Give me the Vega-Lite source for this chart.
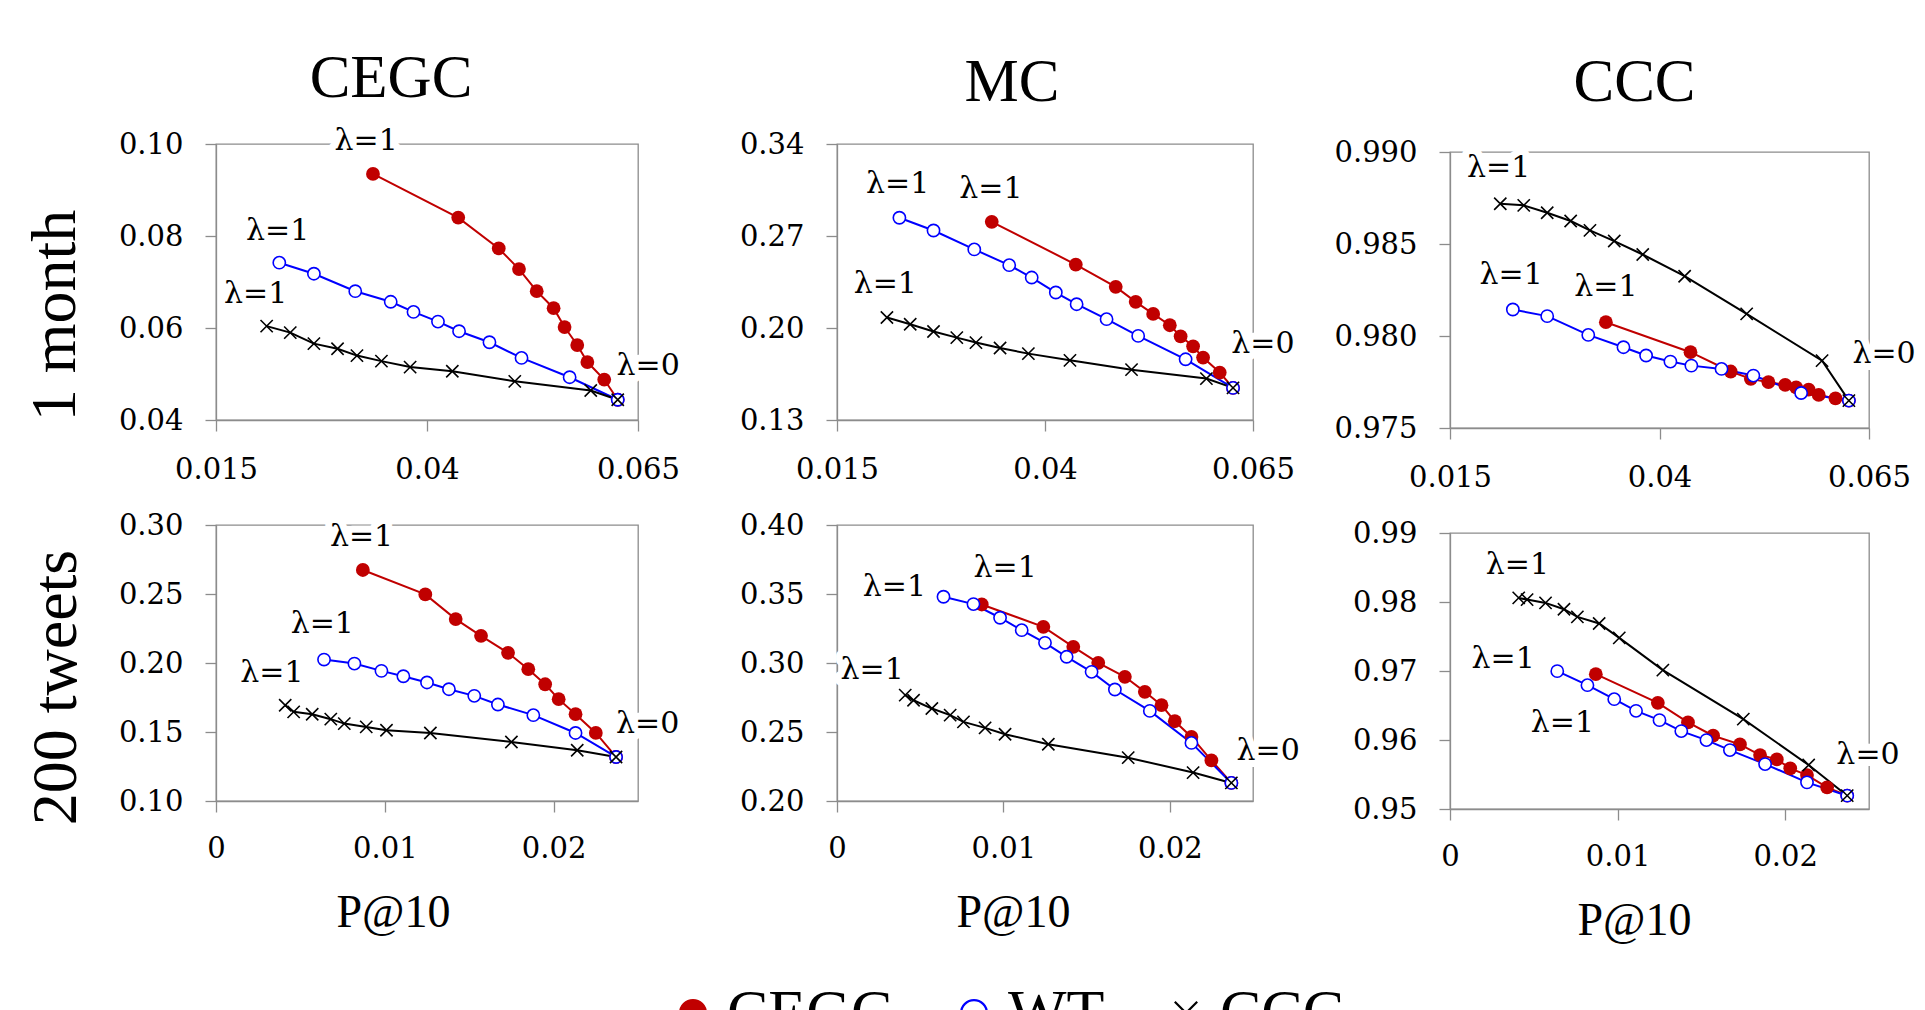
{
"$schema": "https://vega.github.io/schema/vega-lite/v6.json",
"background": "white",
"padding": {"left": 22, "top": 47, "right": 0, "bottom": 0},
"datasets": {
"points": [
{"period":"1 month","metric":"CEGC","method":"CEGC","lambda":1,"p10":0.0336,"value":0.0935},
{"period":"1 month","metric":"CEGC","method":"CEGC","lambda":0.9,"p10":0.0437,"value":0.0840},
{"period":"1 month","metric":"CEGC","method":"CEGC","lambda":0.8,"p10":0.0485,"value":0.0773},
{"period":"1 month","metric":"CEGC","method":"CEGC","lambda":0.7,"p10":0.0509,"value":0.0728},
{"period":"1 month","metric":"CEGC","method":"CEGC","lambda":0.6,"p10":0.0530,"value":0.0680},
{"period":"1 month","metric":"CEGC","method":"CEGC","lambda":0.5,"p10":0.0550,"value":0.0643},
{"period":"1 month","metric":"CEGC","method":"CEGC","lambda":0.4,"p10":0.0563,"value":0.0602},
{"period":"1 month","metric":"CEGC","method":"CEGC","lambda":0.3,"p10":0.0578,"value":0.0563},
{"period":"1 month","metric":"CEGC","method":"CEGC","lambda":0.2,"p10":0.0590,"value":0.0526},
{"period":"1 month","metric":"CEGC","method":"CEGC","lambda":0.1,"p10":0.0610,"value":0.0488},
{"period":"1 month","metric":"CEGC","method":"CEGC","lambda":0,"p10":0.0626,"value":0.0444},
{"period":"1 month","metric":"CEGC","method":"WT","lambda":1,"p10":0.0225,"value":0.0742},
{"period":"1 month","metric":"CEGC","method":"WT","lambda":0.9,"p10":0.0266,"value":0.0718},
{"period":"1 month","metric":"CEGC","method":"WT","lambda":0.8,"p10":0.0315,"value":0.0680},
{"period":"1 month","metric":"CEGC","method":"WT","lambda":0.7,"p10":0.0357,"value":0.0657},
{"period":"1 month","metric":"CEGC","method":"WT","lambda":0.6,"p10":0.0384,"value":0.0635},
{"period":"1 month","metric":"CEGC","method":"WT","lambda":0.5,"p10":0.0413,"value":0.0614},
{"period":"1 month","metric":"CEGC","method":"WT","lambda":0.4,"p10":0.0438,"value":0.0593},
{"period":"1 month","metric":"CEGC","method":"WT","lambda":0.3,"p10":0.0474,"value":0.0569},
{"period":"1 month","metric":"CEGC","method":"WT","lambda":0.2,"p10":0.0512,"value":0.0535},
{"period":"1 month","metric":"CEGC","method":"WT","lambda":0.1,"p10":0.0569,"value":0.0493},
{"period":"1 month","metric":"CEGC","method":"WT","lambda":0,"p10":0.0626,"value":0.0444},
{"period":"1 month","metric":"CEGC","method":"CCC","lambda":1,"p10":0.0210,"value":0.0604},
{"period":"1 month","metric":"CEGC","method":"CCC","lambda":0.9,"p10":0.0238,"value":0.0590},
{"period":"1 month","metric":"CEGC","method":"CCC","lambda":0.8,"p10":0.0266,"value":0.0566},
{"period":"1 month","metric":"CEGC","method":"CCC","lambda":0.7,"p10":0.0294,"value":0.0555},
{"period":"1 month","metric":"CEGC","method":"CCC","lambda":0.6,"p10":0.0317,"value":0.0540},
{"period":"1 month","metric":"CEGC","method":"CCC","lambda":0.5,"p10":0.0346,"value":0.0528},
{"period":"1 month","metric":"CEGC","method":"CCC","lambda":0.4,"p10":0.0380,"value":0.0515},
{"period":"1 month","metric":"CEGC","method":"CCC","lambda":0.3,"p10":0.0430,"value":0.0506},
{"period":"1 month","metric":"CEGC","method":"CCC","lambda":0.2,"p10":0.0504,"value":0.0484},
{"period":"1 month","metric":"CEGC","method":"CCC","lambda":0.1,"p10":0.0594,"value":0.0464},
{"period":"1 month","metric":"CEGC","method":"CCC","lambda":0,"p10":0.0626,"value":0.0444},
{"period":"1 month","metric":"MC","method":"CEGC","lambda":1,"p10":0.0336,"value":0.2808},
{"period":"1 month","metric":"MC","method":"CEGC","lambda":0.9,"p10":0.0437,"value":0.2483},
{"period":"1 month","metric":"MC","method":"CEGC","lambda":0.8,"p10":0.0485,"value":0.2313},
{"period":"1 month","metric":"MC","method":"CEGC","lambda":0.7,"p10":0.0509,"value":0.2199},
{"period":"1 month","metric":"MC","method":"CEGC","lambda":0.6,"p10":0.0530,"value":0.2107},
{"period":"1 month","metric":"MC","method":"CEGC","lambda":0.5,"p10":0.0550,"value":0.2021},
{"period":"1 month","metric":"MC","method":"CEGC","lambda":0.4,"p10":0.0563,"value":0.1937},
{"period":"1 month","metric":"MC","method":"CEGC","lambda":0.3,"p10":0.0578,"value":0.1861},
{"period":"1 month","metric":"MC","method":"CEGC","lambda":0.2,"p10":0.0590,"value":0.1775},
{"period":"1 month","metric":"MC","method":"CEGC","lambda":0.1,"p10":0.0610,"value":0.1661},
{"period":"1 month","metric":"MC","method":"CEGC","lambda":0,"p10":0.0626,"value":0.1544},
{"period":"1 month","metric":"MC","method":"WT","lambda":1,"p10":0.0225,"value":0.2839},
{"period":"1 month","metric":"MC","method":"WT","lambda":0.9,"p10":0.0266,"value":0.2742},
{"period":"1 month","metric":"MC","method":"WT","lambda":0.8,"p10":0.0315,"value":0.2598},
{"period":"1 month","metric":"MC","method":"WT","lambda":0.7,"p10":0.0357,"value":0.2478},
{"period":"1 month","metric":"MC","method":"WT","lambda":0.6,"p10":0.0384,"value":0.2384},
{"period":"1 month","metric":"MC","method":"WT","lambda":0.5,"p10":0.0413,"value":0.2270},
{"period":"1 month","metric":"MC","method":"WT","lambda":0.4,"p10":0.0438,"value":0.2181},
{"period":"1 month","metric":"MC","method":"WT","lambda":0.3,"p10":0.0474,"value":0.2067},
{"period":"1 month","metric":"MC","method":"WT","lambda":0.2,"p10":0.0512,"value":0.1940},
{"period":"1 month","metric":"MC","method":"WT","lambda":0.1,"p10":0.0569,"value":0.1762},
{"period":"1 month","metric":"MC","method":"WT","lambda":0,"p10":0.0626,"value":0.1544},
{"period":"1 month","metric":"MC","method":"CCC","lambda":1,"p10":0.0210,"value":0.2080},
{"period":"1 month","metric":"MC","method":"CCC","lambda":0.9,"p10":0.0238,"value":0.2029},
{"period":"1 month","metric":"MC","method":"CCC","lambda":0.8,"p10":0.0266,"value":0.1973},
{"period":"1 month","metric":"MC","method":"CCC","lambda":0.7,"p10":0.0294,"value":0.1927},
{"period":"1 month","metric":"MC","method":"CCC","lambda":0.6,"p10":0.0317,"value":0.1889},
{"period":"1 month","metric":"MC","method":"CCC","lambda":0.5,"p10":0.0346,"value":0.1848},
{"period":"1 month","metric":"MC","method":"CCC","lambda":0.4,"p10":0.0380,"value":0.1805},
{"period":"1 month","metric":"MC","method":"CCC","lambda":0.3,"p10":0.0430,"value":0.1754},
{"period":"1 month","metric":"MC","method":"CCC","lambda":0.2,"p10":0.0504,"value":0.1683},
{"period":"1 month","metric":"MC","method":"CCC","lambda":0.1,"p10":0.0594,"value":0.1615},
{"period":"1 month","metric":"MC","method":"CCC","lambda":0,"p10":0.0626,"value":0.1544},
{"period":"1 month","metric":"CCC","method":"CEGC","lambda":1,"p10":0.0336,"value":0.98075},
{"period":"1 month","metric":"CCC","method":"CEGC","lambda":0.9,"p10":0.0437,"value":0.97912},
{"period":"1 month","metric":"CCC","method":"CEGC","lambda":0.8,"p10":0.0485,"value":0.97807},
{"period":"1 month","metric":"CCC","method":"CEGC","lambda":0.7,"p10":0.0509,"value":0.97767},
{"period":"1 month","metric":"CCC","method":"CEGC","lambda":0.6,"p10":0.0530,"value":0.97749},
{"period":"1 month","metric":"CCC","method":"CEGC","lambda":0.5,"p10":0.0550,"value":0.97734},
{"period":"1 month","metric":"CCC","method":"CEGC","lambda":0.4,"p10":0.0563,"value":0.97721},
{"period":"1 month","metric":"CCC","method":"CEGC","lambda":0.3,"p10":0.0578,"value":0.97709},
{"period":"1 month","metric":"CCC","method":"CEGC","lambda":0.2,"p10":0.0590,"value":0.97680},
{"period":"1 month","metric":"CCC","method":"CEGC","lambda":0.1,"p10":0.0610,"value":0.97661},
{"period":"1 month","metric":"CCC","method":"CEGC","lambda":0,"p10":0.0626,"value":0.97649},
{"period":"1 month","metric":"CCC","method":"WT","lambda":1,"p10":0.0225,"value":0.98144},
{"period":"1 month","metric":"CCC","method":"WT","lambda":0.9,"p10":0.0266,"value":0.98108},
{"period":"1 month","metric":"CCC","method":"WT","lambda":0.8,"p10":0.0315,"value":0.98006},
{"period":"1 month","metric":"CCC","method":"WT","lambda":0.7,"p10":0.0357,"value":0.97939},
{"period":"1 month","metric":"CCC","method":"WT","lambda":0.6,"p10":0.0384,"value":0.97894},
{"period":"1 month","metric":"CCC","method":"WT","lambda":0.5,"p10":0.0413,"value":0.97861},
{"period":"1 month","metric":"CCC","method":"WT","lambda":0.4,"p10":0.0438,"value":0.97839},
{"period":"1 month","metric":"CCC","method":"WT","lambda":0.3,"p10":0.0474,"value":0.97821},
{"period":"1 month","metric":"CCC","method":"WT","lambda":0.2,"p10":0.0512,"value":0.97785},
{"period":"1 month","metric":"CCC","method":"WT","lambda":0.1,"p10":0.0569,"value":0.97690},
{"period":"1 month","metric":"CCC","method":"WT","lambda":0,"p10":0.0626,"value":0.97649},
{"period":"1 month","metric":"CCC","method":"CCC","lambda":1,"p10":0.0210,"value":0.98719},
{"period":"1 month","metric":"CCC","method":"CCC","lambda":0.9,"p10":0.0238,"value":0.98710},
{"period":"1 month","metric":"CCC","method":"CCC","lambda":0.8,"p10":0.0266,"value":0.98670},
{"period":"1 month","metric":"CCC","method":"CCC","lambda":0.7,"p10":0.0294,"value":0.98625},
{"period":"1 month","metric":"CCC","method":"CCC","lambda":0.6,"p10":0.0317,"value":0.98574},
{"period":"1 month","metric":"CCC","method":"CCC","lambda":0.5,"p10":0.0346,"value":0.98516},
{"period":"1 month","metric":"CCC","method":"CCC","lambda":0.4,"p10":0.0380,"value":0.98443},
{"period":"1 month","metric":"CCC","method":"CCC","lambda":0.3,"p10":0.0430,"value":0.98325},
{"period":"1 month","metric":"CCC","method":"CCC","lambda":0.2,"p10":0.0504,"value":0.98120},
{"period":"1 month","metric":"CCC","method":"CCC","lambda":0.1,"p10":0.0594,"value":0.97866},
{"period":"1 month","metric":"CCC","method":"CCC","lambda":0,"p10":0.0626,"value":0.97649},
{"period":"200 tweets","metric":"CEGC","method":"CEGC","lambda":1,"p10":0.0087,"value":0.2674},
{"period":"200 tweets","metric":"CEGC","method":"CEGC","lambda":0.9,"p10":0.0124,"value":0.2497},
{"period":"200 tweets","metric":"CEGC","method":"CEGC","lambda":0.8,"p10":0.0142,"value":0.2318},
{"period":"200 tweets","metric":"CEGC","method":"CEGC","lambda":0.7,"p10":0.0157,"value":0.2197},
{"period":"200 tweets","metric":"CEGC","method":"CEGC","lambda":0.6,"p10":0.0173,"value":0.2074},
{"period":"200 tweets","metric":"CEGC","method":"CEGC","lambda":0.5,"p10":0.0185,"value":0.1955},
{"period":"200 tweets","metric":"CEGC","method":"CEGC","lambda":0.4,"p10":0.0195,"value":0.1846},
{"period":"200 tweets","metric":"CEGC","method":"CEGC","lambda":0.3,"p10":0.0203,"value":0.1738},
{"period":"200 tweets","metric":"CEGC","method":"CEGC","lambda":0.2,"p10":0.0213,"value":0.1629},
{"period":"200 tweets","metric":"CEGC","method":"CEGC","lambda":0.1,"p10":0.0225,"value":0.1493},
{"period":"200 tweets","metric":"CEGC","method":"CEGC","lambda":0,"p10":0.0237,"value":0.1319},
{"period":"200 tweets","metric":"CEGC","method":"WT","lambda":1,"p10":0.0064,"value":0.2025},
{"period":"200 tweets","metric":"CEGC","method":"WT","lambda":0.9,"p10":0.0082,"value":0.1996},
{"period":"200 tweets","metric":"CEGC","method":"WT","lambda":0.8,"p10":0.0098,"value":0.1943},
{"period":"200 tweets","metric":"CEGC","method":"WT","lambda":0.7,"p10":0.0111,"value":0.1904},
{"period":"200 tweets","metric":"CEGC","method":"WT","lambda":0.6,"p10":0.0125,"value":0.1859},
{"period":"200 tweets","metric":"CEGC","method":"WT","lambda":0.5,"p10":0.0138,"value":0.1810},
{"period":"200 tweets","metric":"CEGC","method":"WT","lambda":0.4,"p10":0.0153,"value":0.1762},
{"period":"200 tweets","metric":"CEGC","method":"WT","lambda":0.3,"p10":0.0167,"value":0.1699},
{"period":"200 tweets","metric":"CEGC","method":"WT","lambda":0.2,"p10":0.0188,"value":0.1622},
{"period":"200 tweets","metric":"CEGC","method":"WT","lambda":0.1,"p10":0.0213,"value":0.1493},
{"period":"200 tweets","metric":"CEGC","method":"WT","lambda":0,"p10":0.0237,"value":0.1319},
{"period":"200 tweets","metric":"CEGC","method":"CCC","lambda":1,"p10":0.0041,"value":0.1694},
{"period":"200 tweets","metric":"CEGC","method":"CCC","lambda":0.9,"p10":0.0046,"value":0.1646},
{"period":"200 tweets","metric":"CEGC","method":"CCC","lambda":0.8,"p10":0.0057,"value":0.1629},
{"period":"200 tweets","metric":"CEGC","method":"CCC","lambda":0.7,"p10":0.0068,"value":0.1593},
{"period":"200 tweets","metric":"CEGC","method":"CCC","lambda":0.6,"p10":0.0076,"value":0.1561},
{"period":"200 tweets","metric":"CEGC","method":"CCC","lambda":0.5,"p10":0.0089,"value":0.1537},
{"period":"200 tweets","metric":"CEGC","method":"CCC","lambda":0.4,"p10":0.0101,"value":0.1513},
{"period":"200 tweets","metric":"CEGC","method":"CCC","lambda":0.3,"p10":0.0127,"value":0.1493},
{"period":"200 tweets","metric":"CEGC","method":"CCC","lambda":0.2,"p10":0.0175,"value":0.1428},
{"period":"200 tweets","metric":"CEGC","method":"CCC","lambda":0.1,"p10":0.0214,"value":0.1368},
{"period":"200 tweets","metric":"CEGC","method":"CCC","lambda":0,"p10":0.0237,"value":0.1319},
{"period":"200 tweets","metric":"MC","method":"CEGC","lambda":1,"p10":0.0087,"value":0.3424},
{"period":"200 tweets","metric":"MC","method":"CEGC","lambda":0.9,"p10":0.0124,"value":0.3262},
{"period":"200 tweets","metric":"MC","method":"CEGC","lambda":0.8,"p10":0.0142,"value":0.3117},
{"period":"200 tweets","metric":"MC","method":"CEGC","lambda":0.7,"p10":0.0157,"value":0.3001},
{"period":"200 tweets","metric":"MC","method":"CEGC","lambda":0.6,"p10":0.0173,"value":0.2900},
{"period":"200 tweets","metric":"MC","method":"CEGC","lambda":0.5,"p10":0.0185,"value":0.2791},
{"period":"200 tweets","metric":"MC","method":"CEGC","lambda":0.4,"p10":0.0195,"value":0.2694},
{"period":"200 tweets","metric":"MC","method":"CEGC","lambda":0.3,"p10":0.0203,"value":0.2578},
{"period":"200 tweets","metric":"MC","method":"CEGC","lambda":0.2,"p10":0.0213,"value":0.2464},
{"period":"200 tweets","metric":"MC","method":"CEGC","lambda":0.1,"p10":0.0225,"value":0.2295},
{"period":"200 tweets","metric":"MC","method":"CEGC","lambda":0,"p10":0.0237,"value":0.2131},
{"period":"200 tweets","metric":"MC","method":"WT","lambda":1,"p10":0.0064,"value":0.3480},
{"period":"200 tweets","metric":"MC","method":"WT","lambda":0.9,"p10":0.0082,"value":0.3427},
{"period":"200 tweets","metric":"MC","method":"WT","lambda":0.8,"p10":0.0098,"value":0.3328},
{"period":"200 tweets","metric":"MC","method":"WT","lambda":0.7,"p10":0.0111,"value":0.3238},
{"period":"200 tweets","metric":"MC","method":"WT","lambda":0.6,"p10":0.0125,"value":0.3146},
{"period":"200 tweets","metric":"MC","method":"WT","lambda":0.5,"p10":0.0138,"value":0.3045},
{"period":"200 tweets","metric":"MC","method":"WT","lambda":0.4,"p10":0.0153,"value":0.2936},
{"period":"200 tweets","metric":"MC","method":"WT","lambda":0.3,"p10":0.0167,"value":0.2808},
{"period":"200 tweets","metric":"MC","method":"WT","lambda":0.2,"p10":0.0188,"value":0.2653},
{"period":"200 tweets","metric":"MC","method":"WT","lambda":0.1,"p10":0.0213,"value":0.2421},
{"period":"200 tweets","metric":"MC","method":"WT","lambda":0,"p10":0.0237,"value":0.2131},
{"period":"200 tweets","metric":"MC","method":"CCC","lambda":1,"p10":0.0041,"value":0.2767},
{"period":"200 tweets","metric":"MC","method":"CCC","lambda":0.9,"p10":0.0046,"value":0.2730},
{"period":"200 tweets","metric":"MC","method":"CCC","lambda":0.8,"p10":0.0057,"value":0.2670},
{"period":"200 tweets","metric":"MC","method":"CCC","lambda":0.7,"p10":0.0068,"value":0.2622},
{"period":"200 tweets","metric":"MC","method":"CCC","lambda":0.6,"p10":0.0076,"value":0.2573},
{"period":"200 tweets","metric":"MC","method":"CCC","lambda":0.5,"p10":0.0089,"value":0.2530},
{"period":"200 tweets","metric":"MC","method":"CCC","lambda":0.4,"p10":0.0101,"value":0.2484},
{"period":"200 tweets","metric":"MC","method":"CCC","lambda":0.3,"p10":0.0127,"value":0.2411},
{"period":"200 tweets","metric":"MC","method":"CCC","lambda":0.2,"p10":0.0175,"value":0.2314},
{"period":"200 tweets","metric":"MC","method":"CCC","lambda":0.1,"p10":0.0214,"value":0.2206},
{"period":"200 tweets","metric":"MC","method":"CCC","lambda":0,"p10":0.0237,"value":0.2131},
{"period":"200 tweets","metric":"CCC","method":"CEGC","lambda":1,"p10":0.0087,"value":0.96954},
{"period":"200 tweets","metric":"CCC","method":"CEGC","lambda":0.9,"p10":0.0124,"value":0.96539},
{"period":"200 tweets","metric":"CCC","method":"CEGC","lambda":0.8,"p10":0.0142,"value":0.96255},
{"period":"200 tweets","metric":"CCC","method":"CEGC","lambda":0.7,"p10":0.0157,"value":0.96062},
{"period":"200 tweets","metric":"CCC","method":"CEGC","lambda":0.6,"p10":0.0173,"value":0.95936},
{"period":"200 tweets","metric":"CCC","method":"CEGC","lambda":0.5,"p10":0.0185,"value":0.95782},
{"period":"200 tweets","metric":"CCC","method":"CEGC","lambda":0.4,"p10":0.0195,"value":0.95719},
{"period":"200 tweets","metric":"CCC","method":"CEGC","lambda":0.3,"p10":0.0203,"value":0.95589},
{"period":"200 tweets","metric":"CCC","method":"CEGC","lambda":0.2,"p10":0.0213,"value":0.95492},
{"period":"200 tweets","metric":"CCC","method":"CEGC","lambda":0.1,"p10":0.0225,"value":0.95314},
{"period":"200 tweets","metric":"CCC","method":"CEGC","lambda":0,"p10":0.0237,"value":0.95193},
{"period":"200 tweets","metric":"CCC","method":"WT","lambda":1,"p10":0.0064,"value":0.96998},
{"period":"200 tweets","metric":"CCC","method":"WT","lambda":0.9,"p10":0.0082,"value":0.96795},
{"period":"200 tweets","metric":"CCC","method":"WT","lambda":0.8,"p10":0.0098,"value":0.96592},
{"period":"200 tweets","metric":"CCC","method":"WT","lambda":0.7,"p10":0.0111,"value":0.96423},
{"period":"200 tweets","metric":"CCC","method":"WT","lambda":0.6,"p10":0.0125,"value":0.96288},
{"period":"200 tweets","metric":"CCC","method":"WT","lambda":0.5,"p10":0.0138,"value":0.96129},
{"period":"200 tweets","metric":"CCC","method":"WT","lambda":0.4,"p10":0.0153,"value":0.95999},
{"period":"200 tweets","metric":"CCC","method":"WT","lambda":0.3,"p10":0.0167,"value":0.95854},
{"period":"200 tweets","metric":"CCC","method":"WT","lambda":0.2,"p10":0.0188,"value":0.95651},
{"period":"200 tweets","metric":"CCC","method":"WT","lambda":0.1,"p10":0.0213,"value":0.95386},
{"period":"200 tweets","metric":"CCC","method":"WT","lambda":0,"p10":0.0237,"value":0.95193},
{"period":"200 tweets","metric":"CCC","method":"CCC","lambda":1,"p10":0.0041,"value":0.98059},
{"period":"200 tweets","metric":"CCC","method":"CCC","lambda":0.9,"p10":0.0046,"value":0.98035},
{"period":"200 tweets","metric":"CCC","method":"CCC","lambda":0.8,"p10":0.0057,"value":0.97987},
{"period":"200 tweets","metric":"CCC","method":"CCC","lambda":0.7,"p10":0.0068,"value":0.97895},
{"period":"200 tweets","metric":"CCC","method":"CCC","lambda":0.6,"p10":0.0076,"value":0.97784},
{"period":"200 tweets","metric":"CCC","method":"CCC","lambda":0.5,"p10":0.0089,"value":0.97688},
{"period":"200 tweets","metric":"CCC","method":"CCC","lambda":0.4,"p10":0.0101,"value":0.97480},
{"period":"200 tweets","metric":"CCC","method":"CCC","lambda":0.3,"p10":0.0127,"value":0.97012},
{"period":"200 tweets","metric":"CCC","method":"CCC","lambda":0.2,"p10":0.0175,"value":0.96303},
{"period":"200 tweets","metric":"CCC","method":"CCC","lambda":0.1,"p10":0.0214,"value":0.95637},
{"period":"200 tweets","metric":"CCC","method":"CCC","lambda":0,"p10":0.0237,"value":0.95193}
],
"labels": [
{"period":"1 month","metric":"CEGC","text":"λ=1","p10":0.0328,"value":0.1007},
{"period":"1 month","metric":"CEGC","text":"λ=1","p10":0.0223,"value":0.0811},
{"period":"1 month","metric":"CEGC","text":"λ=1","p10":0.0197,"value":0.0673},
{"period":"1 month","metric":"CEGC","text":"λ=0","p10":0.0662,"value":0.0517},
{"period":"1 month","metric":"MC","text":"λ=1","p10":0.0223,"value":0.3093},
{"period":"1 month","metric":"MC","text":"λ=1","p10":0.0335,"value":0.3057},
{"period":"1 month","metric":"MC","text":"λ=1","p10":0.0208,"value":0.2331},
{"period":"1 month","metric":"MC","text":"λ=0","p10":0.0662,"value":0.1881},
{"period":"1 month","metric":"CCC","text":"λ=1","p10":0.0208,"value":0.98913},
{"period":"1 month","metric":"CCC","text":"λ=1","p10":0.0223,"value":0.98329},
{"period":"1 month","metric":"CCC","text":"λ=1","p10":0.0336,"value":0.98265},
{"period":"1 month","metric":"CCC","text":"λ=0","p10":0.0668,"value":0.97903},
{"period":"200 tweets","metric":"CEGC","text":"λ=1","p10":0.00862,"value":0.2915},
{"period":"200 tweets","metric":"CEGC","text":"λ=1","p10":0.0063,"value":0.2279},
{"period":"200 tweets","metric":"CEGC","text":"λ=1","p10":0.00331,"value":0.1924},
{"period":"200 tweets","metric":"CEGC","text":"λ=0","p10":0.02557,"value":0.1561},
{"period":"200 tweets","metric":"MC","text":"λ=1","p10":0.00345,"value":0.3553},
{"period":"200 tweets","metric":"MC","text":"λ=1","p10":0.01011,"value":0.3686},
{"period":"200 tweets","metric":"MC","text":"λ=1","p10":0.00211,"value":0.2948},
{"period":"200 tweets","metric":"MC","text":"λ=0","p10":0.02591,"value":0.2360},
{"period":"200 tweets","metric":"CCC","text":"λ=1","p10":0.00402,"value":0.98532},
{"period":"200 tweets","metric":"CCC","text":"λ=1","p10":0.00317,"value":0.97181},
{"period":"200 tweets","metric":"CCC","text":"λ=1","p10":0.00671,"value":0.9624},
{"period":"200 tweets","metric":"CCC","text":"λ=0","p10":0.02494,"value":0.95782}
]
},
"hconcat": [
{"concat": [
{"width": 422, "height": 276, "title": {"text": "CEGC", "dx": -36},
 "layer": [
  {"data": {"name": "points"}, "transform": [{"filter": "datum.period === '1 month' && datum.metric === 'CEGC'"}],
   "mark": {"type": "line", "strokeWidth": 2},
   "encoding": {
    "x": {"field": "p10", "type": "quantitative", "scale": {"domain": [0.015, 0.065], "nice": false, "zero": false}, "axis": {"values": [0.015, 0.04, 0.065], "format": ".3~f", "title": null, "labelPadding": 24}},
    "y": {"field": "value", "type": "quantitative", "scale": {"domain": [0.04, 0.10], "nice": false, "zero": false}, "axis": {"values": [0.04, 0.06, 0.08, 0.10], "format": ".2f", "title": "1 month", "titleX": -142, "titleY": 171}},
    "stroke": {"field": "method", "type": "nominal", "scale": {"domain": ["CEGC", "WT", "CCC"], "range": ["#c00000", "#0000ff", "#000000"]}, "legend": {"title": null}},
    "order": {"field": "lambda", "type": "quantitative"}}},
  {"data": {"name": "points"}, "transform": [{"filter": "false"}],
   "mark": {"type": "point", "opacity": 1, "size": 3136},
   "encoding": {
    "x": {"field": "p10", "type": "quantitative"}, "y": {"field": "value", "type": "quantitative"},
    "shape": {"field": "method", "type": "nominal", "scale": {"domain": ["CEGC", "WT", "CCC"], "range": ["M-1,0L1,0M0.46,0A0.46,0.46,0,1,1,-0.46,0A0.46,0.46,0,1,1,0.46,0Z", "M-1,0L-0.46,0M0.46,0L1,0M0.46,0A0.46,0.46,0,1,1,-0.46,0A0.46,0.46,0,1,1,0.46,0Z", "M-1,0L1,0M-0.4,-0.4L0.4,0.4M-0.4,0.4L0.4,-0.4"]}, "legend": {"title": null}},
    "fill": {"field": "method", "type": "nominal", "scale": {"domain": ["CEGC", "WT", "CCC"], "range": ["#c00000", "#ffffff", "transparent"]}, "legend": {"title": null}},
    "stroke": {"field": "method", "type": "nominal", "legend": {"title": null}}}},
  {"data": {"name": "points"}, "transform": [{"filter": "datum.period === '1 month' && datum.metric === 'CEGC' && datum.method === 'CEGC'"}],
   "mark": {"type": "point", "shape": "circle", "filled": true, "color": "#c00000", "size": 190, "opacity": 1},
   "encoding": {"x": {"field": "p10", "type": "quantitative"}, "y": {"field": "value", "type": "quantitative"}}},
  {"data": {"name": "points"}, "transform": [{"filter": "datum.period === '1 month' && datum.metric === 'CEGC' && datum.method === 'WT'"}],
   "mark": {"type": "point", "shape": "circle", "fill": "#ffffff", "stroke": "#0000ff", "strokeWidth": 1.6, "size": 150, "opacity": 1},
   "encoding": {"x": {"field": "p10", "type": "quantitative"}, "y": {"field": "value", "type": "quantitative"}}},
  {"data": {"name": "points"}, "transform": [{"filter": "datum.period === '1 month' && datum.metric === 'CEGC' && datum.method === 'CCC'"}],
   "mark": {"type": "point", "shape": "M-1,-1L1,1M-1,1L1,-1", "stroke": "#000000", "strokeWidth": 1.6, "size": 150, "opacity": 1},
   "encoding": {"x": {"field": "p10", "type": "quantitative"}, "y": {"field": "value", "type": "quantitative"}}},
  {"data": {"name": "labels"}, "transform": [{"filter": "datum.period === '1 month' && datum.metric === 'CEGC'"}],
   "mark": {"type": "text", "fontSize": 30, "fill": "white", "stroke": "white", "strokeWidth": 14, "strokeJoin": "round"},
   "encoding": {"x": {"field": "p10", "type": "quantitative"}, "y": {"field": "value", "type": "quantitative"}, "text": {"field": "text"}}},
  {"data": {"name": "labels"}, "transform": [{"filter": "datum.period === '1 month' && datum.metric === 'CEGC'"}],
   "mark": {"type": "text", "fontSize": 30, "fill": "black"},
   "encoding": {"x": {"field": "p10", "type": "quantitative"}, "y": {"field": "value", "type": "quantitative"}, "text": {"field": "text"}}}
 ]},
{"width": 416, "height": 276, "title": {"text": "MC", "dx": -33},
 "layer": [
  {"data": {"name": "points"}, "transform": [{"filter": "datum.period === '1 month' && datum.metric === 'MC'"}],
   "mark": {"type": "line", "strokeWidth": 2},
   "encoding": {
    "x": {"field": "p10", "type": "quantitative", "scale": {"domain": [0.015, 0.065], "nice": false, "zero": false}, "axis": {"values": [0.015, 0.04, 0.065], "format": ".3~f", "title": null, "labelPadding": 24}},
    "y": {"field": "value", "type": "quantitative", "scale": {"domain": [0.13, 0.34], "nice": false, "zero": false}, "axis": {"values": [0.13, 0.20, 0.27, 0.34], "format": ".2f", "title": null}},
    "stroke": {"field": "method", "type": "nominal", "legend": {"title": null}},
    "order": {"field": "lambda", "type": "quantitative"}}},
  {"data": {"name": "points"}, "transform": [{"filter": "datum.period === '1 month' && datum.metric === 'MC' && datum.method === 'CEGC'"}],
   "mark": {"type": "point", "shape": "circle", "filled": true, "color": "#c00000", "size": 190, "opacity": 1},
   "encoding": {"x": {"field": "p10", "type": "quantitative"}, "y": {"field": "value", "type": "quantitative"}}},
  {"data": {"name": "points"}, "transform": [{"filter": "datum.period === '1 month' && datum.metric === 'MC' && datum.method === 'WT'"}],
   "mark": {"type": "point", "shape": "circle", "fill": "#ffffff", "stroke": "#0000ff", "strokeWidth": 1.6, "size": 150, "opacity": 1},
   "encoding": {"x": {"field": "p10", "type": "quantitative"}, "y": {"field": "value", "type": "quantitative"}}},
  {"data": {"name": "points"}, "transform": [{"filter": "datum.period === '1 month' && datum.metric === 'MC' && datum.method === 'CCC'"}],
   "mark": {"type": "point", "shape": "M-1,-1L1,1M-1,1L1,-1", "stroke": "#000000", "strokeWidth": 1.6, "size": 150, "opacity": 1},
   "encoding": {"x": {"field": "p10", "type": "quantitative"}, "y": {"field": "value", "type": "quantitative"}}},
  {"data": {"name": "labels"}, "transform": [{"filter": "datum.period === '1 month' && datum.metric === 'MC'"}],
   "mark": {"type": "text", "fontSize": 30, "fill": "white", "stroke": "white", "strokeWidth": 14, "strokeJoin": "round"},
   "encoding": {"x": {"field": "p10", "type": "quantitative"}, "y": {"field": "value", "type": "quantitative"}, "text": {"field": "text"}}},
  {"data": {"name": "labels"}, "transform": [{"filter": "datum.period === '1 month' && datum.metric === 'MC'"}],
   "mark": {"type": "text", "fontSize": 30, "fill": "black"},
   "encoding": {"x": {"field": "p10", "type": "quantitative"}, "y": {"field": "value", "type": "quantitative"}, "text": {"field": "text"}}}
 ]},
{"width": 422, "height": 276,
 "layer": [
  {"data": {"name": "points"}, "transform": [{"filter": "datum.period === '200 tweets' && datum.metric === 'CEGC'"}],
   "mark": {"type": "line", "strokeWidth": 2},
   "encoding": {
    "x": {"field": "p10", "type": "quantitative", "scale": {"domain": [0, 0.025], "nice": false, "zero": false}, "axis": {"values": [0, 0.01, 0.02], "format": ".2~f", "title": "P@10", "labelPadding": 22, "titleX": 177, "titleY": 125}},
    "y": {"field": "value", "type": "quantitative", "scale": {"domain": [0.10, 0.30], "nice": false, "zero": false}, "axis": {"values": [0.10, 0.15, 0.20, 0.25, 0.30], "format": ".2f", "title": "200 tweets", "titleX": -141, "titleY": 162}},
    "stroke": {"field": "method", "type": "nominal", "legend": {"title": null}},
    "order": {"field": "lambda", "type": "quantitative"}}},
  {"data": {"name": "points"}, "transform": [{"filter": "datum.period === '200 tweets' && datum.metric === 'CEGC' && datum.method === 'CEGC'"}],
   "mark": {"type": "point", "shape": "circle", "filled": true, "color": "#c00000", "size": 190, "opacity": 1},
   "encoding": {"x": {"field": "p10", "type": "quantitative"}, "y": {"field": "value", "type": "quantitative"}}},
  {"data": {"name": "points"}, "transform": [{"filter": "datum.period === '200 tweets' && datum.metric === 'CEGC' && datum.method === 'WT'"}],
   "mark": {"type": "point", "shape": "circle", "fill": "#ffffff", "stroke": "#0000ff", "strokeWidth": 1.6, "size": 150, "opacity": 1},
   "encoding": {"x": {"field": "p10", "type": "quantitative"}, "y": {"field": "value", "type": "quantitative"}}},
  {"data": {"name": "points"}, "transform": [{"filter": "datum.period === '200 tweets' && datum.metric === 'CEGC' && datum.method === 'CCC'"}],
   "mark": {"type": "point", "shape": "M-1,-1L1,1M-1,1L1,-1", "stroke": "#000000", "strokeWidth": 1.6, "size": 150, "opacity": 1},
   "encoding": {"x": {"field": "p10", "type": "quantitative"}, "y": {"field": "value", "type": "quantitative"}}},
  {"data": {"name": "labels"}, "transform": [{"filter": "datum.period === '200 tweets' && datum.metric === 'CEGC'"}],
   "mark": {"type": "text", "fontSize": 30, "fill": "white", "stroke": "white", "strokeWidth": 14, "strokeJoin": "round"},
   "encoding": {"x": {"field": "p10", "type": "quantitative"}, "y": {"field": "value", "type": "quantitative"}, "text": {"field": "text"}}},
  {"data": {"name": "labels"}, "transform": [{"filter": "datum.period === '200 tweets' && datum.metric === 'CEGC'"}],
   "mark": {"type": "text", "fontSize": 30, "fill": "black"},
   "encoding": {"x": {"field": "p10", "type": "quantitative"}, "y": {"field": "value", "type": "quantitative"}, "text": {"field": "text"}}}
 ]},
{"width": 416, "height": 276,
 "layer": [
  {"data": {"name": "points"}, "transform": [{"filter": "datum.period === '200 tweets' && datum.metric === 'MC'"}],
   "mark": {"type": "line", "strokeWidth": 2},
   "encoding": {
    "x": {"field": "p10", "type": "quantitative", "scale": {"domain": [0, 0.025], "nice": false, "zero": false}, "axis": {"values": [0, 0.01, 0.02], "format": ".2~f", "title": "P@10", "labelPadding": 22, "titleX": 176, "titleY": 125}},
    "y": {"field": "value", "type": "quantitative", "scale": {"domain": [0.20, 0.40], "nice": false, "zero": false}, "axis": {"values": [0.20, 0.25, 0.30, 0.35, 0.40], "format": ".2f", "title": null}},
    "stroke": {"field": "method", "type": "nominal", "legend": {"title": null}},
    "order": {"field": "lambda", "type": "quantitative"}}},
  {"data": {"name": "points"}, "transform": [{"filter": "datum.period === '200 tweets' && datum.metric === 'MC' && datum.method === 'CEGC'"}],
   "mark": {"type": "point", "shape": "circle", "filled": true, "color": "#c00000", "size": 190, "opacity": 1},
   "encoding": {"x": {"field": "p10", "type": "quantitative"}, "y": {"field": "value", "type": "quantitative"}}},
  {"data": {"name": "points"}, "transform": [{"filter": "datum.period === '200 tweets' && datum.metric === 'MC' && datum.method === 'WT'"}],
   "mark": {"type": "point", "shape": "circle", "fill": "#ffffff", "stroke": "#0000ff", "strokeWidth": 1.6, "size": 150, "opacity": 1},
   "encoding": {"x": {"field": "p10", "type": "quantitative"}, "y": {"field": "value", "type": "quantitative"}}},
  {"data": {"name": "points"}, "transform": [{"filter": "datum.period === '200 tweets' && datum.metric === 'MC' && datum.method === 'CCC'"}],
   "mark": {"type": "point", "shape": "M-1,-1L1,1M-1,1L1,-1", "stroke": "#000000", "strokeWidth": 1.6, "size": 150, "opacity": 1},
   "encoding": {"x": {"field": "p10", "type": "quantitative"}, "y": {"field": "value", "type": "quantitative"}}},
  {"data": {"name": "labels"}, "transform": [{"filter": "datum.period === '200 tweets' && datum.metric === 'MC'"}],
   "mark": {"type": "text", "fontSize": 30, "fill": "white", "stroke": "white", "strokeWidth": 14, "strokeJoin": "round"},
   "encoding": {"x": {"field": "p10", "type": "quantitative"}, "y": {"field": "value", "type": "quantitative"}, "text": {"field": "text"}}},
  {"data": {"name": "labels"}, "transform": [{"filter": "datum.period === '200 tweets' && datum.metric === 'MC'"}],
   "mark": {"type": "text", "fontSize": 30, "fill": "black"},
   "encoding": {"x": {"field": "p10", "type": "quantitative"}, "y": {"field": "value", "type": "quantitative"}, "text": {"field": "text"}}}
 ]}
], "columns": 2, "spacing": {"row": 105, "column": 199}, "bounds": "flush", "align": "each"},
{"vconcat": [
 {"data": {"values": []}, "mark": "point", "width": 419, "height": 8, "view": {"stroke": null}},
 {"vconcat": [
{"width": 419, "height": 276, "title": {"text": "CCC", "dx": -25, "offset": 24},
 "layer": [
  {"data": {"name": "points"}, "transform": [{"filter": "datum.period === '1 month' && datum.metric === 'CCC'"}],
   "mark": {"type": "line", "strokeWidth": 2},
   "encoding": {
    "x": {"field": "p10", "type": "quantitative", "scale": {"domain": [0.015, 0.065], "nice": false, "zero": false}, "axis": {"values": [0.015, 0.04, 0.065], "format": ".3~f", "title": null, "labelPadding": 24}},
    "y": {"field": "value", "type": "quantitative", "scale": {"domain": [0.975, 0.99], "nice": false, "zero": false}, "axis": {"values": [0.975, 0.98, 0.985, 0.99], "format": ".3f", "title": null}},
    "stroke": {"field": "method", "type": "nominal", "legend": {"title": null}},
    "order": {"field": "lambda", "type": "quantitative"}}},
  {"data": {"name": "points"}, "transform": [{"filter": "datum.period === '1 month' && datum.metric === 'CCC' && datum.method === 'CEGC'"}],
   "mark": {"type": "point", "shape": "circle", "filled": true, "color": "#c00000", "size": 190, "opacity": 1},
   "encoding": {"x": {"field": "p10", "type": "quantitative"}, "y": {"field": "value", "type": "quantitative"}}},
  {"data": {"name": "points"}, "transform": [{"filter": "datum.period === '1 month' && datum.metric === 'CCC' && datum.method === 'WT'"}],
   "mark": {"type": "point", "shape": "circle", "fill": "#ffffff", "stroke": "#0000ff", "strokeWidth": 1.6, "size": 150, "opacity": 1},
   "encoding": {"x": {"field": "p10", "type": "quantitative"}, "y": {"field": "value", "type": "quantitative"}}},
  {"data": {"name": "points"}, "transform": [{"filter": "datum.period === '1 month' && datum.metric === 'CCC' && datum.method === 'CCC'"}],
   "mark": {"type": "point", "shape": "M-1,-1L1,1M-1,1L1,-1", "stroke": "#000000", "strokeWidth": 1.6, "size": 150, "opacity": 1},
   "encoding": {"x": {"field": "p10", "type": "quantitative"}, "y": {"field": "value", "type": "quantitative"}}},
  {"data": {"name": "labels"}, "transform": [{"filter": "datum.period === '1 month' && datum.metric === 'CCC'"}],
   "mark": {"type": "text", "fontSize": 30, "fill": "white", "stroke": "white", "strokeWidth": 14, "strokeJoin": "round"},
   "encoding": {"x": {"field": "p10", "type": "quantitative"}, "y": {"field": "value", "type": "quantitative"}, "text": {"field": "text"}}},
  {"data": {"name": "labels"}, "transform": [{"filter": "datum.period === '1 month' && datum.metric === 'CCC'"}],
   "mark": {"type": "text", "fontSize": 30, "fill": "black"},
   "encoding": {"x": {"field": "p10", "type": "quantitative"}, "y": {"field": "value", "type": "quantitative"}, "text": {"field": "text"}}}
 ]},
{"width": 419, "height": 276,
 "layer": [
  {"data": {"name": "points"}, "transform": [{"filter": "datum.period === '200 tweets' && datum.metric === 'CCC'"}],
   "mark": {"type": "line", "strokeWidth": 2},
   "encoding": {
    "x": {"field": "p10", "type": "quantitative", "scale": {"domain": [0, 0.025], "nice": false, "zero": false}, "axis": {"values": [0, 0.01, 0.02], "format": ".2~f", "title": "P@10", "labelPadding": 22, "titleX": 184, "titleY": 125}},
    "y": {"field": "value", "type": "quantitative", "scale": {"domain": [0.95, 0.99], "nice": false, "zero": false}, "axis": {"values": [0.95, 0.96, 0.97, 0.98, 0.99], "format": ".2f", "title": null}},
    "stroke": {"field": "method", "type": "nominal", "legend": {"title": null}},
    "order": {"field": "lambda", "type": "quantitative"}}},
  {"data": {"name": "points"}, "transform": [{"filter": "datum.period === '200 tweets' && datum.metric === 'CCC' && datum.method === 'CEGC'"}],
   "mark": {"type": "point", "shape": "circle", "filled": true, "color": "#c00000", "size": 190, "opacity": 1},
   "encoding": {"x": {"field": "p10", "type": "quantitative"}, "y": {"field": "value", "type": "quantitative"}}},
  {"data": {"name": "points"}, "transform": [{"filter": "datum.period === '200 tweets' && datum.metric === 'CCC' && datum.method === 'WT'"}],
   "mark": {"type": "point", "shape": "circle", "fill": "#ffffff", "stroke": "#0000ff", "strokeWidth": 1.6, "size": 150, "opacity": 1},
   "encoding": {"x": {"field": "p10", "type": "quantitative"}, "y": {"field": "value", "type": "quantitative"}}},
  {"data": {"name": "points"}, "transform": [{"filter": "datum.period === '200 tweets' && datum.metric === 'CCC' && datum.method === 'CCC'"}],
   "mark": {"type": "point", "shape": "M-1,-1L1,1M-1,1L1,-1", "stroke": "#000000", "strokeWidth": 1.6, "size": 150, "opacity": 1},
   "encoding": {"x": {"field": "p10", "type": "quantitative"}, "y": {"field": "value", "type": "quantitative"}}},
  {"data": {"name": "labels"}, "transform": [{"filter": "datum.period === '200 tweets' && datum.metric === 'CCC'"}],
   "mark": {"type": "text", "fontSize": 30, "fill": "white", "stroke": "white", "strokeWidth": 14, "strokeJoin": "round"},
   "encoding": {"x": {"field": "p10", "type": "quantitative"}, "y": {"field": "value", "type": "quantitative"}, "text": {"field": "text"}}},
  {"data": {"name": "labels"}, "transform": [{"filter": "datum.period === '200 tweets' && datum.metric === 'CCC'"}],
   "mark": {"type": "text", "fontSize": 30, "fill": "black"},
   "encoding": {"x": {"field": "p10", "type": "quantitative"}, "y": {"field": "value", "type": "quantitative"}, "text": {"field": "text"}}}
 ]}
 ], "spacing": 105, "bounds": "flush"}
], "spacing": 0, "bounds": "flush"}
],
"spacing": 32,
"bounds": "full",
"config": {
 "font": "Liberation Serif",
 "view": {"stroke": "#8c8c8c", "strokeWidth": 1.3},
 "axis": {"grid": false, "domainColor": "#8c8c8c", "tickColor": "#8c8c8c", "domainWidth": 1.3, "tickWidth": 1.3, "tickSize": 11,
   "labelFont": "DejaVu Serif", "labelFontSize": 29, "labelColor": "black", "labelFlush": false, "labelOverlap": false, "labelBound": false,
   "titleFont": "Liberation Serif", "titleFontWeight": "normal", "titleColor": "black", "titleBaseline": "alphabetic", "titleAlign": "center"},
 "axisX": {"titleFontSize": 46},
 "axisY": {"titleFontSize": 64, "labelPadding": 22},
 "title": {"font": "Liberation Serif", "fontSize": 61, "fontWeight": "normal", "color": "black", "frame": "group", "baseline": "alphabetic", "offset": 16, "anchor": "middle"},
 "text": {"font": "DejaVu Serif", "align": "center", "baseline": "middle"},
 "legend": {"orient": "none", "legendX": 446, "legendY": 838, "direction": "horizontal", "labelFont": "Liberation Serif", "labelFontSize": 62, "labelColor": "black", "labelOffset": 3, "columnPadding": 48, "symbolSize": 3136, "symbolStrokeWidth": 2.2, "padding": 0, "labelLimit": 0}
}
}
